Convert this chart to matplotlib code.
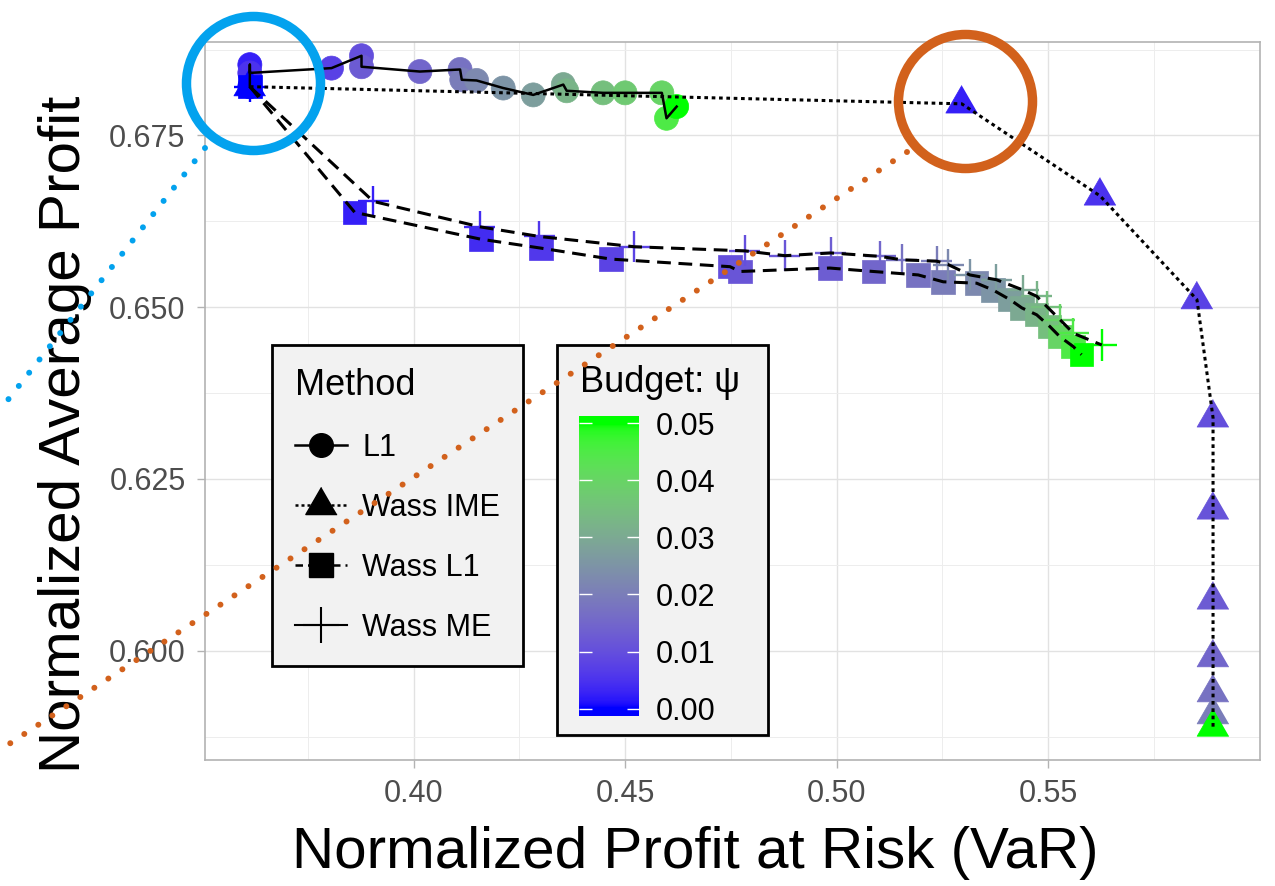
#
# Risk / profit trade-off for the four ambiguity sets
#

import numpy as np
import matplotlib
matplotlib.use("Agg")
import matplotlib.pyplot as plt
from matplotlib.colors import ListedColormap, Normalize
from matplotlib.cm import ScalarMappable
from matplotlib.lines import Line2D
from matplotlib.patches import Rectangle

plt.rcParams["font.family"] = ["Liberation Sans", "DejaVu Sans"]

# ---- data --------------------------------------------------------------
l1_var = [0.3613, 0.3613, 0.3613, 0.3806, 0.3877, 0.3877, 0.4015, 0.4110, 0.4114, 0.4149,
          0.4212, 0.4283, 0.4354, 0.4362, 0.4448, 0.4500, 0.4587, 0.4598, 0.4622]
l1_avg = [0.6821, 0.6853, 0.6841, 0.6848, 0.6866, 0.6850, 0.6843, 0.6846, 0.6831, 0.6830,
          0.6819, 0.6809, 0.6824, 0.6815, 0.6812, 0.6812, 0.6812, 0.6775, 0.6792]
l1_budget = [0, 0.0025, 0.005, 0.0075, 0.01, 0.0125, 0.015, 0.0175, 0.02, 0.0225,
             0.025, 0.0275, 0.03, 0.0325, 0.035, 0.0375, 0.04, 0.045, 0.05]

ime_var = [0.3613, 0.5296, 0.5623, 0.5852, 0.5890, 0.5890, 0.5890, 0.5890, 0.5890, 0.5890, 0.5890]
ime_avg = [0.6821, 0.6796, 0.6662, 0.6511, 0.6339, 0.6205, 0.6074, 0.5990, 0.5939, 0.5907, 0.5889]
ime_budget = [0, 0.0025, 0.005, 0.0075, 0.01, 0.011, 0.0125, 0.015, 0.0175, 0.02, 0.05]

wl1_var = [0.3613, 0.3861, 0.4159, 0.4301, 0.4467, 0.4748, 0.4772, 0.4984, 0.5087, 0.5193,
           0.5252, 0.5331, 0.5370, 0.5410, 0.5438, 0.5473, 0.5504, 0.5528, 0.5559, 0.5579]
wl1_avg = [0.6821, 0.6638, 0.6599, 0.6586, 0.6570, 0.6559, 0.6552, 0.6557, 0.6552, 0.6547,
           0.6537, 0.6535, 0.6525, 0.6511, 0.6499, 0.6489, 0.6472, 0.6457, 0.6443, 0.6431]

me_var = [0.3613, 0.3905, 0.4157, 0.4297, 0.4522, 0.4783, 0.4878, 0.4986, 0.5103, 0.5154,
          0.5237, 0.5264, 0.5315, 0.5378, 0.5441, 0.5473, 0.5497, 0.5528, 0.5560, 0.5627]
me_avg = [0.6821, 0.6654, 0.6617, 0.6603, 0.6588, 0.6582, 0.6575, 0.6579, 0.6574, 0.6569,
          0.6567, 0.6562, 0.6547, 0.6540, 0.6525, 0.6516, 0.6501, 0.6482, 0.6462, 0.6445]
wass_budget = [0, 0.0025, 0.004, 0.006, 0.008, 0.01, 0.0115, 0.013, 0.015, 0.0175,
               0.02, 0.0225, 0.025, 0.0275, 0.03, 0.0325, 0.035, 0.04, 0.045, 0.05]

x_ticks = [0.40, 0.45, 0.50, 0.55]
x_tick_labels = ["0.40", "0.45", "0.50", "0.55"]
y_ticks = [0.600, 0.625, 0.650, 0.675]
y_tick_labels = ["0.600", "0.625", "0.650", "0.675"]
budget_ticks = [0.00, 0.01, 0.02, 0.03, 0.04, 0.05]
budget_tick_labels = ["0.00", "0.01", "0.02", "0.03", "0.04", "0.05"]
method_labels = ["L1", "Wass IME", "Wass L1", "Wass ME"]


# ---- blue -> green gradient interpolated in Lab, like ggplot ------------
M = np.array([[0.4124, 0.3576, 0.1805],
              [0.2126, 0.7152, 0.0722],
              [0.0193, 0.1192, 0.9505]])
WHITE = np.array([0.95047, 1.0, 1.08883])


def srgb_to_lab(rgb):
    rgb = np.asarray(rgb, float)
    lin = np.where(rgb <= 0.04045, rgb / 12.92, ((rgb + 0.055) / 1.055) ** 2.4)
    t = (M @ lin) / WHITE
    f = np.where(t > (6 / 29) ** 3, np.cbrt(t), t / (3 * (6 / 29) ** 2) + 4 / 29)
    return np.array([116 * f[1] - 16, 500 * (f[0] - f[1]), 200 * (f[1] - f[2])])


def lab_to_srgb(lab):
    L, a, b = lab
    fy = (L + 16) / 116
    f = np.array([fy + a / 500, fy, fy - b / 200])
    xyz = np.where(f > 6 / 29, f ** 3, 3 * (6 / 29) ** 2 * (f - 4 / 29)) * WHITE[:, None]
    lin = np.linalg.inv(M) @ xyz
    lin = np.clip(lin, 0, 1)
    rgb = np.where(lin <= 0.0031308, 12.92 * lin, 1.055 * lin ** (1 / 2.4) - 0.055)
    return np.clip(rgb, 0, 1).T


lo = srgb_to_lab([0, 0, 1])
hi = srgb_to_lab([0, 1, 0])
t = np.linspace(0, 1, 256)
cmap = ListedColormap(lab_to_srgb(lo[:, None] * (1 - t) + hi[:, None] * t))
norm = Normalize(0, 0.05)

# ---- figure --------------------------------------------------------------
W, H = 1275, 886
fig = plt.figure(figsize=(W / 100, H / 100), dpi=100)
ax = fig.add_axes([205 / W, 1 - 760 / H, 1055 / W, 718 / H])

tri = [(0, 0.577), (-0.5, -0.289), (0.5, -0.289)]

ax.scatter(l1_var, l1_avg, c=l1_budget, cmap=cmap, norm=norm, s=300, marker="o",
           edgecolors="face", linewidths=0.5, zorder=3)
ax.scatter(wl1_var, wl1_avg, c=wass_budget, cmap=cmap, norm=norm, s=285, marker="s",
           edgecolors="face", linewidths=0.5, zorder=3)
ax.scatter(ime_var, ime_avg, c=ime_budget, cmap=cmap, norm=norm, s=700, marker=tri,
           edgecolors="face", linewidths=0.5, zorder=3)
ax.scatter(me_var, me_avg, c=wass_budget, cmap=cmap, norm=norm, s=500, marker="+",
           linewidths=1.7, zorder=3)

ax.plot(l1_var, l1_avg, color="black", lw=1.8, zorder=4)
ax.plot(ime_var, ime_avg, color="black", lw=2.2, ls=(0, (1.2, 1.2)), zorder=4)
ax.plot(wl1_var, wl1_avg, color="black", lw=2.2, ls=(0, (4.5, 2.5)), zorder=4)
ax.plot(me_var, me_avg, color="black", lw=2.2, ls=(0, (4.5, 2.5)), zorder=4)

ax.set_xlim(0.3507, 0.6001)
ax.set_ylim(0.5841, 0.6886)
ax.set_xticks(x_ticks, labels=x_tick_labels)
ax.set_yticks(y_ticks, labels=y_tick_labels)
ax.set_xticks([0.375, 0.425, 0.475, 0.525, 0.575], minor=True)
ax.set_yticks([0.5875, 0.6125, 0.6375, 0.6625, 0.6875], minor=True)
ax.tick_params(which="major", length=6, width=1, color="#B3B3B3",
               labelsize=22, labelcolor="#4D4D4D", pad=8)
ax.tick_params(which="minor", length=0)
ax.grid(which="major", color="#E2E2E2", lw=1.0)
ax.grid(which="minor", color="#EDEDED", lw=0.7)
ax.set_axisbelow(True)
for sp in ax.spines.values():
    sp.set_color("#B3B3B3")
    sp.set_linewidth(1.2)

# the axis titles sit a little off the panel centre in the original
ax.set_xlabel("Normalized Profit at Risk (VaR)", fontsize=42, va="center")
ax.xaxis.set_label_coords(0.465, -0.130)
ax.set_ylabel("Normalized Average Profit", fontsize=42, va="center")
ax.yaxis.set_label_coords(-0.133, 0.453)

# method legend
handles = [
    Line2D([], [], color="black", lw=1.8, marker="o", ms=17),
    Line2D([], [], color="black", lw=1.8, ls=(0, (1.2, 1.2)), marker=tri, ms=26),
    Line2D([], [], color="black", lw=1.8, ls=(0, (3, 2)), marker="s", ms=17),
    Line2D([], [], color="black", lw=1.5, marker="+", ms=26, mew=1.5),
]
leg = ax.legend(handles, method_labels, title="Method", loc="upper left",
                bbox_to_anchor=(272 / W, 1 - 345 / H), bbox_transform=fig.transFigure,
                borderaxespad=0, fontsize=22, title_fontsize=26, alignment="left",
                handlelength=1.7, handletextpad=0.5, labelspacing=0.98, borderpad=0.75,
                fancybox=False, framealpha=1, facecolor="#F2F2F2", edgecolor="black")
leg.get_frame().set_linewidth(2)

# budget colourbar legend
box = Rectangle((557 / W, 1 - 735 / H), 211 / W, 390 / H, transform=fig.transFigure,
                facecolor="#F2F2F2", edgecolor="black", lw=2, zorder=1)
fig.add_artist(box)
fig.text(580 / W, 1 - 392 / H, "Budget: ψ", fontsize=26, va="baseline", zorder=3)

cax = fig.add_axes([579 / W, 1 - 716 / H, 60 / W, 300 / H])
cax.set_zorder(2)
half = 0.05 / 19 / 2
bounds = np.linspace(-half, 0.05 + half, 301)
cb = fig.colorbar(ScalarMappable(norm=norm, cmap=cmap), cax=cax, boundaries=bounds,
                  values=np.clip((bounds[:-1] + bounds[1:]) / 2, 0, 0.05))
cb.outline.set_visible(False)
cb.set_ticks(budget_ticks, labels=budget_tick_labels)
cax.yaxis.set_ticks_position("both")
cax.tick_params(axis="y", direction="in", length=9, width=1, color="white",
                labelsize=22, labelleft=False, labelright=True, pad=12)

# call-out rings and dotted leaders
blue, orange = "#03A2EE", "#D2611C"
for cx, cy, col in [(253, 83, blue), (965, 101, orange)]:
    fig.add_artist(Line2D([cx / W], [1 - cy / H], marker="o", ms=96.5, mfc="none",
                          mec=col, mew=6.8, transform=fig.transFigure, zorder=10))
for (x0, y0), (x1, y1), col in [((205, 148), (0, 410), blue), ((907, 152), (0, 750), orange)]:
    fig.add_artist(Line2D([x0 / W, x1 / W], [1 - y0 / H, 1 - y1 / H], color=col, lw=4.3,
                          ls=(0, (0.01, 2.8)), dash_capstyle="round",
                          transform=fig.transFigure, zorder=10))

fig.savefig("out.png", dpi=100)
